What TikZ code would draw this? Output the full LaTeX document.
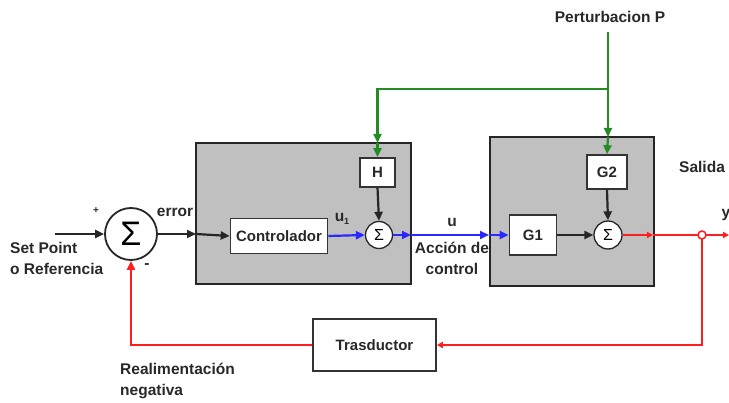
\documentclass[tikz,border=0pt]{standalone}
\usepackage{fontspec}
\setmainfont{Liberation Sans}
\usetikzlibrary{arrows.meta}
\definecolor{boxgray}{RGB}{192,192,192}
\definecolor{pgreen}{RGB}{34,140,34}
\definecolor{pblue}{RGB}{40,40,255}
\definecolor{pred}{RGB}{255,30,30}
\definecolor{txt}{RGB}{40,40,40}
\begin{document}
\begin{tikzpicture}[x=1pt,y=-1pt,
  lbl/.style={text=txt,font=\fontsize{15.5}{21}\selectfont\bfseries,inner sep=0pt},
  blk/.style={draw=black!80,fill=white,line width=1.6pt,inner sep=0pt,text=txt,font=\fontsize{15}{17}\selectfont\bfseries},
  sumc/.style={circle,draw=black!85,fill=white,line width=1.3pt,inner sep=0pt},
  outer/.style={draw=black!85,fill=boxgray,line width=2.2pt},
  tip/.style={-{Triangle[length=9pt,width=8pt]}},
  stip/.style={-{Triangle[length=6pt,width=6pt]}},
  wire/.style={line width=2.2pt}]
\useasboundingbox (0,0) rectangle (729,403);
% outer gray boxes
\draw[outer] (196,143) rectangle (411,284);
\draw[outer] (490,137) rectangle (654,286);
% blocks
\node[sumc,minimum size=52pt,line width=1.8pt,font=\fontsize{34}{34}\selectfont] (sum) at (131,234) {Σ};
\node[blk,minimum width=97pt,minimum height=35pt] (ctrl) at (279,236) {Controlador};
\node[sumc,minimum size=27pt,font=\fontsize{16}{16}\selectfont] (sum1) at (379,235) {Σ};
\node[blk,minimum width=35pt,minimum height=29pt] (H) at (377.5,172.5) {H};
\node[blk,minimum width=47pt,minimum height=40pt] (G1) at (533,235) {G1};
\node[blk,minimum width=40pt,minimum height=34pt] (G2) at (607,172) {G2};
\node[sumc,minimum size=28pt,font=\fontsize{16}{16}\selectfont] (sum2) at (608,235) {Σ};
\node[blk,minimum width=123pt,minimum height=52pt] (tras) at (374.5,345) {Trasductor};
% coordinates
\coordinate (in) at (55,234);
\coordinate (b1in) at (196,234);
\coordinate (b1out) at (411,235);
\coordinate (b2in) at (489,235);
\coordinate (b2out) at (653,235);
\coordinate (yend) at (729,235);
\coordinate (br) at (702,235);
\coordinate (brd) at (702,345);
\coordinate (fbl) at (131,345);
\coordinate (ptop) at (608,32);
\coordinate (pbr) at (608,89);
\coordinate (hbr) at (377.5,89);
\coordinate (b1top) at (377.5,143);
\coordinate (b2top) at (608,137);
% black connectors
\draw[wire,tip,black!85] (in) -- (sum.west);
\draw[wire,tip,black!85] (sum.east) -- (b1in);
\draw[wire,tip,black!85] (b1in) -- (ctrl.west);
\draw[wire,tip,black!85] (H.south) -- (sum1.north);
\draw[wire,tip,black!85] (G1.east) -- (sum2.west);
\draw[wire,tip,black!85] (G2.south) -- (sum2.north);
% blue connectors
\draw[wire,tip,pblue] (ctrl.east) -- (sum1.west);
\draw[wire,tip,pblue] (sum1.east) -- (b1out);
\draw[wire,tip,pblue] (b1out) -- (b2in);
\draw[wire,tip,pblue] (b2in) -- (G1.west);
% green connectors
\draw[wire,tip,pgreen] (ptop) -- (b2top);
\draw[wire,tip,pgreen] (b2top) -- (G2.north);
\draw[wire,tip,pgreen] (pbr) -- (hbr) -- (b1top);
\draw[wire,tip,pgreen] (b1top) -- (H.north);
% red connectors
\draw[wire,stip,pred] (sum2.east) -- (b2out);
\draw[wire,stip,pred] (b2out) -- (yend);
\draw[wire,stip,pred] (br) -- (brd) -- (tras.east);
\draw[wire,tip,pred] (tras.west) -- (fbl) -- (sum.south);
\node[circle,draw=pred,fill=white,line width=1.5pt,minimum size=8pt,inner sep=0pt] (brc) at (br) {};
% labels
\node[lbl,font=\fontsize{10}{10}\selectfont\bfseries] (plus) at (96,211) {+};
\node[lbl] (minus) at (147,266) {-};
\node[lbl] (err) at (175,212) {error};
\node[lbl,anchor=west,align=left] (sp) at (10,258) {Set Point\\o Referencia};
\node[lbl] (u1) at (342,219) {u\raisebox{-3pt}{\fontsize{9}{9}\selectfont 1}};
\node[lbl] (u) at (452,222) {u};
\node[lbl,align=center] (acc) at (452,258) {Acción de\\control};
\node[lbl,anchor=west] (sal) at (679,167) {Salida};
\node[lbl] (y) at (726,215) {y};
\node[lbl,anchor=west,align=left] (real) at (120,381) {Realimentación\\negativa};
\node[lbl] (pert) at (610,17) {Perturbacion P};
\end{tikzpicture}
\end{document}
